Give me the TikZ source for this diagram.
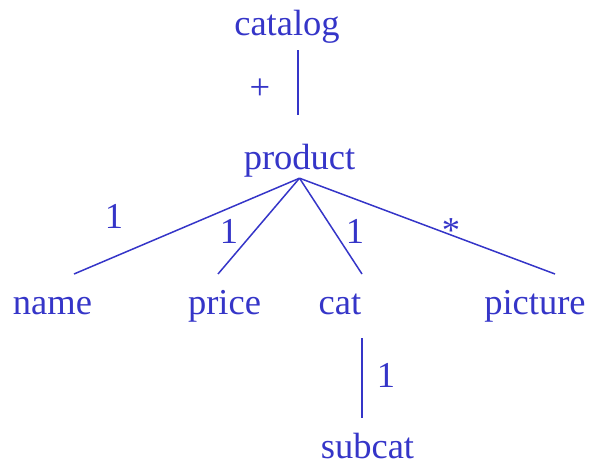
\documentclass[tikz,border=0pt]{standalone}
\usepackage{fontspec}
\setmainfont{Liberation Serif}
\usetikzlibrary{positioning}
\definecolor{treeC}{HTML}{3535C8}
\tikzset{
  elem/.style={font=\fontsize{36.5}{40}\selectfont, text=treeC, inner sep=0pt,
               anchor=base, text height=25.5pt, text depth=8pt},
  card/.style={font=\fontsize{36.5}{40}\selectfont, text=treeC, inner sep=0pt, anchor=base},
  link/.style={draw=treeC, line width=1.5pt},
}
\begin{document}
\begin{tikzpicture}[x=1pt,y=-1pt]
\useasboundingbox (0,0) rectangle (594,465);
% elements
\node[elem] (catalog) at (287,36) {catalog};
\node[elem] (product) at (299.5,170) {product};
\node[elem] (name) at (52.5,314) {name};
\node[elem] (price) at (224.5,314) {price};
\node[elem] (cat) at (340,314) {cat};
\node[elem] (picture) at (535,314) {picture};
\node[elem] (subcat) at (367.5,458) {subcat};
% ends of the branches
\coordinate (name-end) at (74,274);
\coordinate (price-end) at (218,274);
\coordinate (cat-end) at (362,274);
\coordinate (picture-end) at (555,274);
\draw[link, shorten <=6pt, shorten >=29.5pt] ([xshift=-1.5pt]catalog.south -| product.south) -- ([xshift=-1.5pt]product.north);
\draw[link] (product.south) -- (name-end);
\draw[link] (product.south) -- (price-end);
\draw[link] (product.south) -- (cat-end);
\draw[link] (product.south) -- (picture-end);
\draw[link, shorten <=16pt, shorten >=14.5pt] (cat.south -| cat-end) -- (cat-end |- subcat.north);
% cardinalities
\node[card] (plus) at (260,100) {+};
\node[card] (name-card) at (114,228) {1};
\node[card] (price-card) at (229,243) {1};
\node[card] (cat-card) at (355,243) {1};
\node[card] (picture-card) at (451,242) {*};
\node[card] (subcat-card) at (386,387) {1};
\end{tikzpicture}
\end{document}
